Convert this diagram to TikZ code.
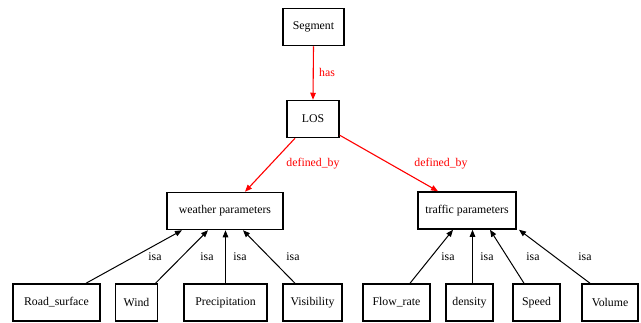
\documentclass[tikz,border=0pt]{standalone}
\usepackage{fontspec}
\setmainfont{Liberation Serif}
\usetikzlibrary{arrows.meta}
\definecolor{relred}{RGB}{255,0,0}
\tikzset{
  box/.style={draw=black, line width=1.5pt, minimum height=37pt, inner sep=0pt, font=\fontsize{11.8}{13}\selectfont},
  isaedge/.style={draw=black, line width=1pt, -{Triangle[length=7pt,width=5.5pt]}},
  reledge/.style={draw=relred, line width=1.1pt, -{Triangle[length=7pt,width=5.5pt]}},
  lbl/.style={font=\fontsize{11.8}{13}\selectfont, inner sep=0pt},
  rlbl/.style={lbl, text=relred}
}
\begin{document}
\begin{tikzpicture}[x=1pt, y=-1pt]
\useasboundingbox (0,0) rectangle (641,322);

% upper levels
\node[box, minimum width=61pt] (segment) at (313.5,27) {Segment};
\node[box, minimum width=52pt] (los) at (313,119) {LOS};
\node[box, minimum width=116pt] (weather) at (225,211) {weather parameters};
\node[box, minimum width=98pt] (traffic) at (467,210.5) {traffic parameters};

% leaves
\node[box, minimum width=87pt] (road) at (56.5,302.5) {Road\_surface};
\node[box, minimum width=42pt] (wind) at (136.5,302.5) {Wind};
\node[box, minimum width=83pt] (precip) at (225.5,302.5) {Precipitation};
\node[box, minimum width=59pt] (vis) at (312.5,302.5) {Visibility};
\node[box, minimum width=67pt] (flow) at (396.5,302.5) {Flow\_rate};
\node[box, minimum width=47pt] (density) at (469.5,302.5) {density};
\node[box, minimum width=47pt] (speed) at (536.5,302.5) {Speed};
\node[box, minimum width=56pt] (volume) at (610,302.5) {Volume};

% relations
\draw[reledge] (segment.south) -- (los.north);
\draw[reledge] ([xshift=-18pt]los.south) -- ([xshift=20pt]weather.north);
\draw[reledge] ([yshift=3pt]los.south east) -- ([xshift=-29pt]traffic.north);
\node[rlbl] (lhas) at (327,72) {has};
\node[rlbl] (ldef1) at (313,164) {defined\_by};
\node[rlbl] (ldef2) at (441,164) {defined\_by};

% isa links
\draw[isaedge] ([xshift=29.5pt]road.north) -- ([xshift=-43pt]weather.south);
\draw[isaedge] ([xshift=19pt]wind.north) -- ([xshift=-17pt]weather.south);
\draw[isaedge] ([xshift=0pt]precip.north) -- ([xshift=0.5pt]weather.south);
\draw[isaedge] ([xshift=-17.5pt]vis.north) -- ([xshift=18pt]weather.south);
\draw[isaedge] ([xshift=13.5pt]flow.north) -- ([xshift=-14pt]traffic.south);
\draw[isaedge] ([xshift=3pt]density.north) -- ([xshift=5.5pt]traffic.south);
\draw[isaedge] ([xshift=-12.5pt]speed.north) -- ([xshift=23pt]traffic.south);
\draw[isaedge] ([xshift=-20pt]volume.north) -- ([xshift=52pt]traffic.south);

\node[lbl] (i1) at (155,257) {isa};
\node[lbl] (i2) at (207,257) {isa};
\node[lbl] (i3) at (240,257) {isa};
\node[lbl] (i4) at (293,257) {isa};
\node[lbl] (i5) at (448,257) {isa};
\node[lbl] (i6) at (487,257) {isa};
\node[lbl] (i7) at (533,257) {isa};
\node[lbl] (i8) at (585,257) {isa};
\end{tikzpicture}
\end{document}
